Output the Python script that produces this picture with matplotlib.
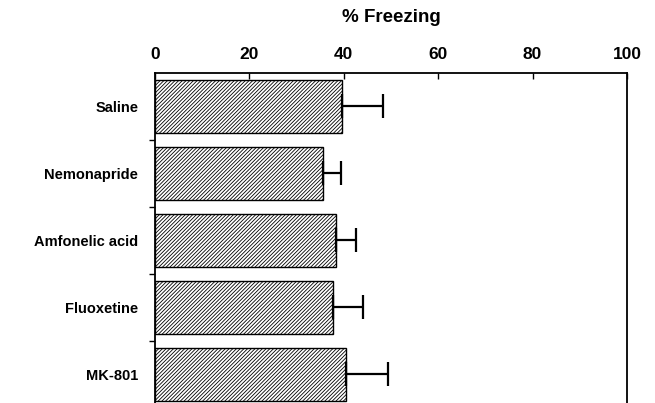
import matplotlib
matplotlib.use("Agg")
import matplotlib.pyplot as plt
import numpy as np

plt.rcParams['font.family'] = ['Liberation Sans', 'DejaVu Sans']
plt.rcParams['hatch.linewidth'] = 0.6

# Daten
groups = ['Saline', 'Nemonapride', 'Amfonelic acid', 'Fluoxetine', 'MK-801']
freezing = [39.6, 35.5, 38.3, 37.7, 40.5]
sem = [8.7, 4.0, 4.2, 6.3, 8.8]
xticks = [0, 20, 40, 60, 80, 100]

fig = plt.figure(figsize=(6.55, 4.03), dpi=100)
ax = fig.add_axes([0.2366, 0.0, 0.7206, 0.819])

y = np.arange(len(groups))
ax.barh(y, freezing, height=0.79, color='white', edgecolor='black',
        linewidth=1.0, hatch='/////////')
ax.errorbar(freezing, y, xerr=[np.zeros(len(sem)), sem], fmt='none',
            ecolor='black', elinewidth=1.6, capsize=8.5, capthick=1.6)

ax.set_xlim(0, 100)
ax.set_ylim(4.43, -0.5)
ax.xaxis.tick_top()
ax.xaxis.set_label_position('top')
ax.set_xticks(xticks)
ax.set_xticklabels([str(t) for t in xticks], fontsize=12.5, fontweight='bold')
ax.set_xlabel('% Freezing', fontsize=13.5, fontweight='bold', labelpad=18)
ax.tick_params(axis='x', direction='in', length=4, width=1, pad=8)

# Kategorie-Ticks an den Grenzen
ax.set_yticks(y)
ax.set_yticklabels(groups, fontsize=10.5, fontweight='bold')
ax.tick_params(axis='y', which='major', length=0, pad=12)
ax.set_yticks(np.arange(0.5, len(groups) - 0.5), minor=True)
ax.tick_params(axis='y', which='minor', direction='out', length=4, width=1)

ax.spines['bottom'].set_visible(False)
for s in ['top', 'left', 'right']:
    ax.spines[s].set_linewidth(1.3)

fig.savefig('out.png', dpi=100)
